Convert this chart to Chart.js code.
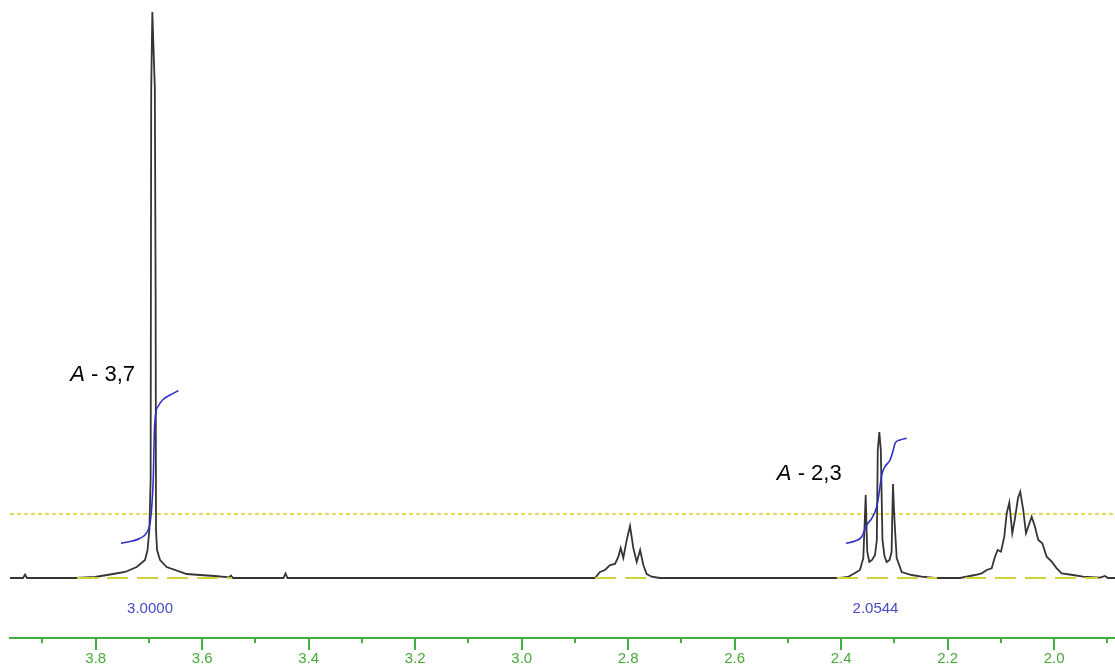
<!DOCTYPE html>
<html>
<head>
<meta charset="utf-8">
<title>1H NMR</title>
<script src="https://cdn.jsdelivr.net/npm/chart.js@4/dist/chart.umd.min.js"></script>
<style>
  html, body { margin: 0; padding: 0; background: #ffffff; }
  canvas { display: block; }
</style>
</head>
<body>
<canvas id="nmr" width="1115" height="667"></canvas>
<script>
// ---- Spectrum trace: chemical shift (ppm) and signal height ----
const shiftPpm = [
  3.961, 3.9365, 3.9328, 3.9291, 3.8389, 3.8013, 3.7675, 3.7450, 3.7230, 3.7074,
  3.7027, 3.6993, 3.6969, 3.6958, 3.6937, 3.6890, 3.6875, 3.6868, 3.6849, 3.6792,
  3.6667, 3.6291, 3.6041, 3.5760, 3.5497, 3.5460, 3.5422, 3.4473, 3.4436, 3.4398,
  2.8624, 2.8530, 2.8436, 2.8342, 2.8248, 2.8186, 2.8141, 2.8092, 2.8028, 2.7966,
  2.7904, 2.7840, 2.7776, 2.7716, 2.7653, 2.7559, 2.7403, 2.4023, 2.3872, 2.3741,
  2.3647, 2.3585, 2.3557, 2.3540, 2.3523, 2.3510, 2.3472, 2.3421, 2.3365, 2.3331,
  2.3313, 2.3284, 2.3256, 2.3225, 2.3187, 2.3146, 2.3093, 2.3053, 2.3042, 2.3027,
  2.3008, 2.2989, 2.2958, 2.2864, 2.2676, 2.2488, 2.2239, 2.1769, 2.1487, 2.1362,
  2.1268, 2.1174, 2.1112, 2.1061, 2.0999, 2.0937, 2.0892, 2.0843, 2.0787, 2.0736,
  2.0680, 2.0637, 2.0581, 2.0530, 2.0423, 2.0361, 2.0299, 2.0224, 2.0141, 2.0047,
  1.9953, 1.9859, 1.9647, 1.9459, 1.9140, 1.9046, 1.8990, 1.8858
];
const signal = [
  0, 0, 3.5, 0, 0, 1, 4, 6, 11, 18,
  28, 48, 98, 488, 566, 490, 278, 48, 28, 18,
  11, 4, 3, 2, 0.7, 2.5, 0, 0, 4.5, 0,
  0, 6, 8, 13, 14, 21, 30, 20, 38, 52,
  30, 16, 28, 13, 4, 1.3, 0, 0, 1, 5,
  8, 20, 58, 83, 48, 26, 16, 18, 23, 38,
  128, 146, 128, 38, 22, 16, 18, 26, 58, 94,
  68, 48, 20, 6, 3, 1.3, 0, 0, 3, 4.7,
  8, 9.7, 21.3, 28, 26.3, 41.3, 64.7, 75.3, 44.7, 59.7,
  80, 86.3, 68, 44.7, 61.3, 51.3, 38, 34.7, 21.3, 16.3,
  9.7, 4.7, 3, 1.3, 0.3, 2, 0, 0
];

// ---- Integral curves ----
const integralAPpm = [3.7525, 3.7168, 3.7042, 3.6980, 3.6948, 3.6918, 3.6900, 3.6873, 3.6824, 3.6731, 3.6605, 3.6449];
const integralAValue = [34.7, 39.7, 45.3, 54.7, 71.3, 101.3, 144.7, 164.7, 172, 178.7, 183, 187.3];
const integralBPpm = [2.3910, 2.3741, 2.3615, 2.3521, 2.3427, 2.3333, 2.3284, 2.3239, 2.3177, 2.3083, 2.3021, 2.2989, 2.2896, 2.2770];
const integralBValue = [34.7, 37, 41.3, 53, 59.7, 71.3, 86.3, 103, 111.3, 118, 128, 134.7, 138, 139.7];

// Integrated regions (ppm from, ppm to) and their values
const integrationRegions = [[3.835, 3.544], [2.862, 2.750], [2.408, 2.220], [2.1675, 1.918]];
const integralValues = [3.0000, 2.0544];
const integralValueShift = [3.6980, 2.3356];

// Peak assignments
const peakLabels = [['A', ' - 3,7'], ['A', ' - 2,3']];

// Threshold level
const thresholdLevel = 64;

// Axis ticks
const majorTicks = [3.8, 3.6, 3.4, 3.2, 3.0, 2.8, 2.6, 2.4, 2.2, 2.0];
const minorTicks = [3.9, 3.7, 3.5, 3.3, 3.1, 2.9, 2.7, 2.5, 2.3, 2.1, 1.9];
const shiftRange = [1.8858, 3.961];

// ---- Styling / placement ----
const axisGreen = '#3fb13f';
const tickTextGreen = '#48a838';
const integralBlue = '#3030c8';
const labelBlue = '#4a4ac4';
const peakLabelAnchors = [{ ppm: 3.7262, level: 203 }, { ppm: 2.3991, level: 104 }];
const integralLabelLevel = -31;

const toPoints = (xs, ys) => xs.map((x, i) => ({ x: x, y: ys[i] }));

const baselinePoints = [];
integrationRegions.forEach(([a, b]) => {
  baselinePoints.push({ x: a, y: 0 }, { x: b, y: 0 }, { x: b, y: null });
});

const decorations = {
  id: 'nmrDecorations',
  afterDatasetsDraw(chart) {
    const { ctx, scales: { x, y } } = chart;
    ctx.save();
    // peak assignment labels
    ctx.fillStyle = '#000000';
    ctx.textBaseline = 'middle';
    ctx.textAlign = 'left';
    peakLabels.forEach(([ital, rest], i) => {
      const anchor = peakLabelAnchors[i];
      const px = x.getPixelForValue(anchor.ppm);
      const py = y.getPixelForValue(anchor.level);
      ctx.font = 'italic 22px "Liberation Sans", Arial, sans-serif';
      const wI = ctx.measureText(ital).width;
      ctx.font = '22px "Liberation Sans", Arial, sans-serif';
      const wR = ctx.measureText(rest).width;
      const start = px - wI - wR;
      ctx.font = 'italic 22px "Liberation Sans", Arial, sans-serif';
      ctx.fillText(ital, start, py);
      ctx.font = '22px "Liberation Sans", Arial, sans-serif';
      ctx.fillText(rest, start + wI, py);
    });
    // integral values
    ctx.fillStyle = labelBlue;
    ctx.textAlign = 'center';
    ctx.font = '15px "Liberation Sans", Arial, sans-serif';
    integralValues.forEach((v, i) => {
      ctx.fillText(v.toFixed(4), x.getPixelForValue(integralValueShift[i]), y.getPixelForValue(integralLabelLevel));
    });
    ctx.restore();
  },
  afterDraw(chart) {
    const { ctx, scales: { x }, chartArea } = chart;
    const base = chartArea.bottom;
    ctx.save();
    ctx.strokeStyle = axisGreen;
    ctx.lineWidth = 2;
    ctx.beginPath();
    majorTicks.forEach(v => {
      const px = Math.round(x.getPixelForValue(v));
      ctx.moveTo(px, base);
      ctx.lineTo(px, base + 12);
    });
    minorTicks.forEach(v => {
      const px = Math.round(x.getPixelForValue(v));
      ctx.moveTo(px, base);
      ctx.lineTo(px, base + 5);
    });
    ctx.stroke();
    ctx.restore();
  }
};

new Chart(document.getElementById('nmr'), {
  type: 'line',
  data: {
    datasets: [
      {
        label: 'integral A-3,7',
        data: toPoints(integralAPpm, integralAValue),
        borderColor: integralBlue,
        borderWidth: 1.6,
        cubicInterpolationMode: 'monotone',
        order: 0
      },
      {
        label: 'integral A-2,3',
        data: toPoints(integralBPpm, integralBValue),
        borderColor: integralBlue,
        borderWidth: 1.6,
        cubicInterpolationMode: 'monotone',
        order: 0
      },
      {
        label: 'baseline',
        data: baselinePoints,
        borderColor: '#d2d23a',
        borderWidth: 2,
        borderDash: [21, 9],
        spanGaps: false,
        order: 1
      },
      {
        label: 'spectrum',
        data: toPoints(shiftPpm, signal),
        borderColor: '#353535',
        borderWidth: 1.8,
        tension: 0,
        order: 2
      },
      {
        label: 'threshold',
        data: [{ x: shiftRange[1], y: thresholdLevel }, { x: shiftRange[0], y: thresholdLevel }],
        borderColor: '#d4d41e',
        borderWidth: 1.5,
        borderDash: [4, 3],
        order: 3
      }
    ]
  },
  options: {
    responsive: false,
    devicePixelRatio: 1,
    animation: false,
    events: [],
    layout: { padding: { left: 10, right: 0, top: 0, bottom: 0 } },
    elements: { point: { radius: 0 }, line: { tension: 0, fill: false } },
    plugins: { legend: { display: false }, tooltip: { enabled: false } },
    scales: {
      x: {
        type: 'linear',
        reverse: true,
        min: shiftRange[0],
        max: shiftRange[1],
        position: 'bottom',
        grid: { display: false, drawTicks: false },
        border: { display: true, color: axisGreen, width: 2 },
        afterBuildTicks: (scale) => { scale.ticks = majorTicks.map(v => ({ value: v })); },
        afterFit: (scale) => { scale.height = 29; },
        ticks: {
          padding: 12,
          color: tickTextGreen,
          font: { family: '"Liberation Sans", Arial, sans-serif', size: 15 },
          maxRotation: 0,
          autoSkip: false,
          callback: (v) => Number(v).toFixed(1)
        }
      },
      y: {
        type: 'linear',
        display: false,
        min: -60,
        max: 578
      }
    }
  },
  plugins: [decorations]
});
</script>
</body>
</html>
